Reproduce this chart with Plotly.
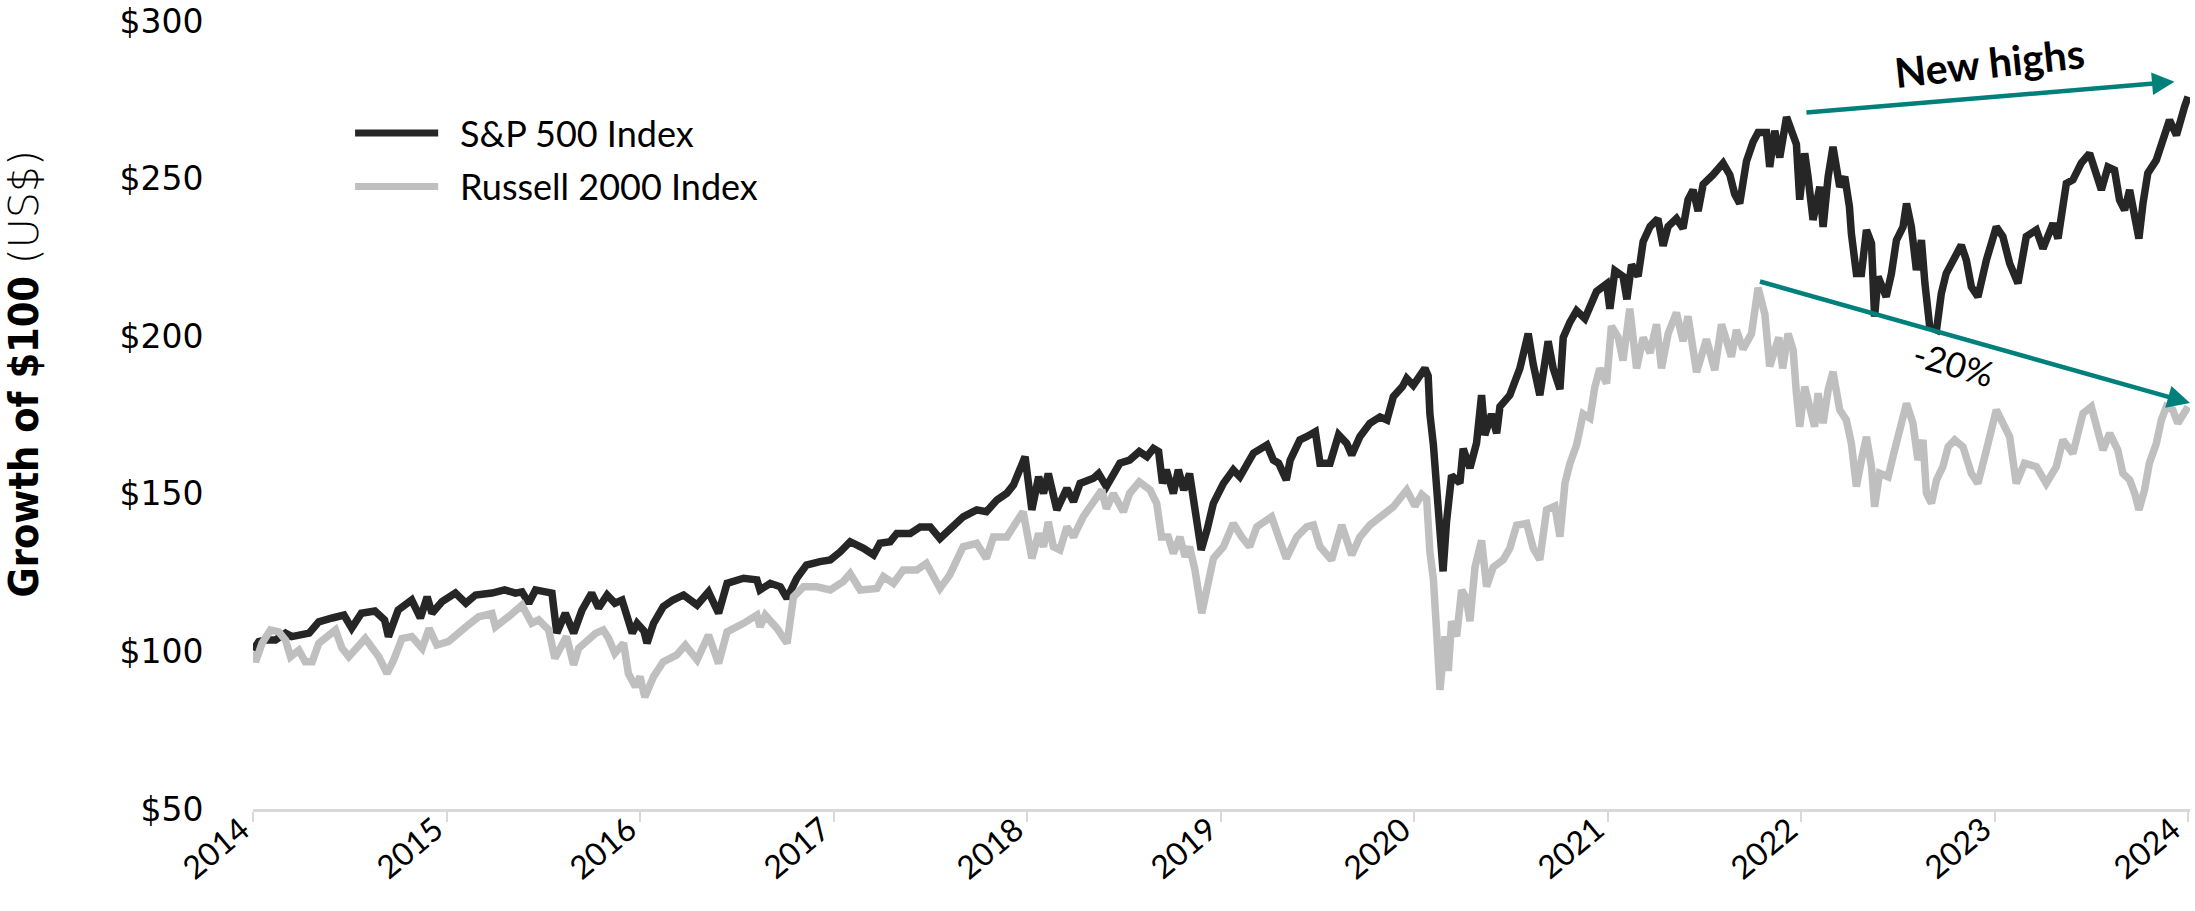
import plotly.graph_objects as go

# ---------------- DATA ----------------
# time measured in years since 1 Jan 2014
sp500_t = [0.000, 0.030, 0.065, 0.116, 0.168, 0.200, 0.290, 0.340, 0.410, 0.470, 0.510, 0.560, 0.630, 0.680,
           0.700, 0.750, 0.820, 0.865, 0.900, 0.925, 0.977, 1.046, 1.100, 1.150, 1.235, 1.300, 1.356, 1.390,
           1.425, 1.460, 1.545, 1.570, 1.614, 1.657, 1.700, 1.750, 1.786, 1.830, 1.870, 1.907, 1.960, 1.985,
           2.020, 2.036, 2.070, 2.120, 2.170, 2.225, 2.295, 2.354, 2.406, 2.450, 2.535, 2.604, 2.620, 2.673,
           2.725, 2.760, 2.810, 2.860, 2.930, 2.983, 3.035, 3.086, 3.155, 3.207, 3.240, 3.293, 3.327, 3.396,
           3.448, 3.500, 3.550, 3.620, 3.670, 3.740, 3.790, 3.844, 3.896, 3.930, 3.964, 3.990, 4.025, 4.060,
           4.085, 4.110, 4.154, 4.206, 4.240, 4.274, 4.343, 4.370, 4.410, 4.480, 4.530, 4.580, 4.620, 4.653,
           4.680, 4.700, 4.720, 4.756, 4.782, 4.810, 4.840, 4.870, 4.900, 4.930, 4.963, 5.015, 5.066, 5.100,
           5.170, 5.240, 5.273, 5.300, 5.340, 5.360, 5.410, 5.445, 5.490, 5.514, 5.566, 5.610, 5.652, 5.678,
           5.720, 5.772, 5.824, 5.860, 5.893, 5.940, 5.962, 5.996, 6.013, 6.056, 6.073, 6.082, 6.100, 6.117,
           6.134, 6.150, 6.168, 6.194, 6.237, 6.254, 6.289, 6.323, 6.349, 6.366, 6.400, 6.427, 6.444, 6.495,
           6.547, 6.590, 6.616, 6.650, 6.693, 6.719, 6.754, 6.771, 6.805, 6.840, 6.883, 6.943, 6.995, 7.012,
           7.038, 7.080, 7.100, 7.124, 7.158, 7.184, 7.220, 7.260, 7.287, 7.313, 7.356, 7.390, 7.416, 7.442,
           7.468, 7.494, 7.545, 7.597, 7.632, 7.657, 7.683, 7.718, 7.752, 7.778, 7.821, 7.838, 7.864, 7.890,
           7.925, 7.950, 7.976, 7.993, 8.019, 8.036, 8.062, 8.097, 8.114, 8.140, 8.165, 8.200, 8.226, 8.250,
           8.260, 8.286, 8.312, 8.338, 8.364, 8.380, 8.398, 8.440, 8.467, 8.493, 8.527, 8.545, 8.570, 8.596,
           8.622, 8.640, 8.665, 8.700, 8.725, 8.750, 8.785, 8.828, 8.854, 8.880, 8.914, 8.958, 9.009, 9.043,
           9.078, 9.121, 9.164, 9.216, 9.250, 9.302, 9.328, 9.353, 9.371, 9.405, 9.448, 9.491, 9.517, 9.552,
           9.586, 9.620, 9.646, 9.672, 9.698, 9.724, 9.746, 9.767, 9.792, 9.836, 9.870, 9.904, 9.940, 9.965,
           9.982, 10.000]
sp500_value = [100.4, 103.1, 103.6, 103.6, 105.8, 104.7, 105.8, 109.4, 110.6, 111.5, 107.4, 112.1, 112.8, 110.0,
               104.7, 113.1, 116.3, 110.6, 117.3, 112.1, 115.8, 118.5, 115.3, 117.9, 118.5, 119.5, 118.5, 118.9,
               115.3, 119.5, 118.5, 105.8, 112.1, 105.8, 113.1, 118.5, 113.8, 117.9, 115.3, 116.3, 105.8, 108.9,
               106.5, 102.6, 108.9, 114.2, 116.3, 117.9, 114.7, 118.9, 112.1, 121.6, 123.2, 122.7, 119.5, 121.6,
               120.5, 116.8, 123.2, 127.4, 128.5, 129.0, 131.6, 134.8, 132.7, 130.6, 134.3, 134.8, 137.4, 137.4,
               139.5, 139.5, 135.8, 139.5, 142.7, 144.9, 144.3, 148.0, 150.2, 152.8, 157.6, 161.8, 144.9, 155.4,
               150.1, 156.4, 144.9, 151.7, 147.5, 153.3, 154.9, 156.4, 152.3, 159.7, 160.7, 163.4, 161.8, 164.4,
               163.4, 153.3, 157.6, 150.1, 157.6, 151.2, 156.4, 145.9, 132.2, 138.5, 147.0, 153.3, 157.6, 155.4,
               162.9, 165.5, 160.7, 159.7, 154.4, 160.7, 167.1, 168.1, 169.7, 159.7, 159.7, 168.7, 166.0, 162.3,
               168.1, 172.4, 174.4, 173.4, 180.8, 184.0, 186.6, 184.4, 186.0, 189.8, 187.4, 175.3, 165.5, 152.2,
               137.6, 125.4, 141.2, 155.8, 153.4, 164.3, 158.2, 166.1, 181.3, 168.6, 175.3, 169.2, 177.7, 181.3,
               189.8, 200.8, 191.1, 181.3, 198.4, 189.8, 183.2, 199.6, 204.4, 208.1, 205.6, 214.2, 216.6, 208.7,
               220.8, 219.0, 211.7, 222.7, 219.0, 230.0, 234.8, 237.3, 228.7, 234.8, 237.3, 234.2, 243.3, 246.4,
               239.7, 248.2, 251.2, 254.9, 251.2, 245.1, 242.1, 255.5, 261.6, 264.6, 264.6, 253.7, 265.2, 256.7,
               269.5, 265.2, 260.9, 243.3, 258.0, 250.6, 236.9, 247.4, 234.7, 250.6, 260.1, 247.4, 250.6, 241.1,
               232.6, 219.9, 219.9, 233.7, 229.5, 206.2, 218.9, 212.5, 219.9, 230.5, 234.7, 242.1, 234.7, 221.0,
               230.5, 216.8, 203.0, 202.0, 213.6, 219.9, 224.2, 228.9, 224.2, 215.7, 212.5, 224.2, 234.7, 231.6,
               223.1, 216.8, 231.6, 233.7, 227.8, 235.8, 231.0, 241.1, 248.5, 249.6, 254.9, 258.0, 252.7, 246.4,
               253.7, 252.7, 243.2, 240.0, 246.4, 237.9, 231.0, 242.1, 251.7, 255.9, 263.3, 268.6, 263.8, 270.7,
               272.8, 276.0]

russell_t = [0.000, 0.013, 0.047, 0.090, 0.133, 0.168, 0.194, 0.237, 0.270, 0.306, 0.340, 0.426, 0.460, 0.495,
             0.580, 0.650, 0.693, 0.727, 0.770, 0.820, 0.874, 0.910, 0.950, 1.010, 1.100, 1.166, 1.235, 1.253,
             1.320, 1.390, 1.440, 1.476, 1.528, 1.560, 1.620, 1.657, 1.683, 1.770, 1.810, 1.838, 1.870, 1.915,
             1.940, 1.976, 2.000, 2.025, 2.070, 2.120, 2.190, 2.234, 2.295, 2.354, 2.406, 2.450, 2.535, 2.604,
             2.620, 2.647, 2.708, 2.760, 2.793, 2.845, 2.914, 2.983, 3.050, 3.086, 3.138, 3.224, 3.258, 3.310,
             3.360, 3.430, 3.480, 3.516, 3.550, 3.600, 3.670, 3.740, 3.790, 3.826, 3.896, 3.940, 3.980, 4.025,
             4.060, 4.085, 4.110, 4.136, 4.170, 4.206, 4.240, 4.290, 4.343, 4.386, 4.410, 4.446, 4.498, 4.530,
             4.580, 4.636, 4.670, 4.695, 4.730, 4.756, 4.790, 4.817, 4.840, 4.868, 4.903, 4.930, 4.963, 5.015,
             5.066, 5.110, 5.150, 5.187, 5.264, 5.300, 5.340, 5.394, 5.445, 5.480, 5.514, 5.574, 5.626, 5.678,
             5.720, 5.772, 5.824, 5.893, 5.962, 6.005, 6.040, 6.065, 6.082, 6.100, 6.117, 6.134, 6.160, 6.177,
             6.194, 6.220, 6.246, 6.270, 6.289, 6.315, 6.349, 6.375, 6.409, 6.461, 6.495, 6.530, 6.582, 6.616,
             6.650, 6.685, 6.728, 6.754, 6.780, 6.805, 6.840, 6.874, 6.909, 6.934, 6.960, 6.995, 7.020, 7.055,
             7.080, 7.115, 7.150, 7.184, 7.220, 7.253, 7.279, 7.313, 7.356, 7.390, 7.416, 7.460, 7.511, 7.554,
             7.589, 7.640, 7.666, 7.700, 7.744, 7.778, 7.813, 7.838, 7.885, 7.905, 7.933, 7.959, 7.976, 7.993,
             8.019, 8.045, 8.070, 8.088, 8.114, 8.140, 8.165, 8.200, 8.234, 8.260, 8.286, 8.312, 8.338, 8.364,
             8.380, 8.406, 8.450, 8.475, 8.510, 8.545, 8.578, 8.604, 8.630, 8.648, 8.674, 8.700, 8.733, 8.760,
             8.794, 8.837, 8.880, 8.914, 8.958, 9.009, 9.043, 9.078, 9.112, 9.155, 9.216, 9.267, 9.319, 9.353,
             9.405, 9.457, 9.500, 9.526, 9.560, 9.595, 9.637, 9.663, 9.698, 9.724, 9.746, 9.775, 9.800, 9.836,
             9.862, 9.888, 9.921, 9.947, 9.973, 10.000]
russell_value = [99.9, 96.7, 102.6, 106.8, 106.2, 103.6, 98.3, 100.4, 96.7, 96.7, 102.6, 106.8, 101.0, 98.3,
                 104.1, 98.3, 93.0, 97.3, 104.1, 104.7, 101.0, 107.3, 102.0, 103.1, 107.8, 111.0, 112.0, 107.8,
                 111.0, 114.7, 108.9, 110.0, 106.8, 97.8, 104.7, 95.7, 101.0, 105.7, 106.8, 104.1, 99.4, 102.6,
                 93.0, 88.8, 92.0, 85.5, 92.0, 96.7, 98.9, 102.0, 97.3, 105.2, 96.2, 106.2, 108.9, 111.5,
                 107.8, 111.5, 107.3, 102.6, 117.3, 120.5, 120.5, 119.5, 122.1, 124.7, 119.5, 120.0, 123.7, 121.6,
                 125.8, 125.8, 127.9, 123.2, 120.0, 124.2, 133.2, 134.3, 129.5, 136.3, 136.3, 140.6, 144.3, 129.5,
                 137.4, 133.2, 141.1, 133.2, 132.2, 139.5, 136.3, 142.7, 147.0, 151.2, 145.3, 150.1, 144.3, 150.1,
                 153.8, 151.2, 147.0, 136.3, 136.3, 131.1, 136.3, 130.0, 133.2, 125.8, 112.1, 120.5, 129.5, 133.2,
                 140.6, 136.3, 133.2, 139.5, 142.7, 136.3, 129.5, 136.3, 139.5, 140.1, 133.2, 129.0, 140.1, 130.6,
                 136.3, 140.1, 142.7, 145.9, 151.2, 146.1, 149.8, 148.5, 131.5, 123.0, 106.0, 87.8, 104.8, 93.8,
                 109.6, 104.8, 119.4, 116.9, 109.6, 126.7, 135.2, 120.6, 126.7, 129.1, 132.7, 140.0, 140.6, 132.7,
                 129.1, 144.9, 146.1, 136.4, 153.4, 159.5, 165.5, 175.3, 174.0, 183.8, 189.8, 185.0, 203.2, 199.6,
                 192.3, 208.7, 189.8, 199.6, 194.7, 203.8, 189.8, 200.8, 207.5, 198.4, 206.3, 188.6, 199.0, 189.2,
                 203.8, 193.5, 202.0, 195.9, 200.8, 215.4, 206.9, 190.4, 199.6, 189.8, 200.8, 195.6, 181.9, 171.3,
                 184.0, 177.6, 171.3, 181.9, 172.4, 182.9, 188.7, 176.6, 173.4, 166.0, 152.3, 160.7, 168.1, 158.6,
                 145.9, 156.5, 155.4, 161.8, 170.2, 178.7, 172.4, 160.7, 167.1, 150.2, 147.0, 154.4, 158.6, 164.9,
                 167.1, 164.9, 156.5, 153.3, 163.9, 176.6, 172.4, 168.1, 153.3, 159.7, 158.6, 153.3, 158.6, 167.1,
                 162.8, 175.5, 177.6, 172.4, 163.9, 169.2, 163.9, 156.5, 154.4, 150.2, 144.9, 151.2, 159.7, 166.0,
                 173.4, 177.6, 176.6, 172.4, 175.5, 177.6]

START_YEAR = 2014
year_ticks = list(range(2014, 2025))
year_labels = [str(y) for y in year_ticks]
value_ticks = [50, 100, 150, 200, 250, 300]
value_labels = ["$50", "$100", "$150", "$200", "$250", "$300"]

series_names = ["S&P 500 Index", "Russell 2000 Index"]
series_colors = ["#262626", "#bfbfbf"]

# annotation anchor points (year, value)
new_highs_arrow = {"tail": (2022.02, 270.9), "tip": (2023.93, 280.7)}
drop_arrow = {"tail": (2021.78, 217.5), "tip": (2024.01, 178.8)}
new_highs_label = (2022.975, 286.8)
drop_label = (2022.79, 191.6)

TEAL = "#00807a"
X_MAX = 2024.01

# ---------------- FIGURE ----------------
sp_x = [START_YEAR + t for t in sp500_t]
ru_x = [START_YEAR + t for t in russell_t]

fig = go.Figure()
fig.add_trace(go.Scatter(x=sp_x, y=sp500_value, mode="lines", name=series_names[0],
                         line=dict(color=series_colors[0], width=7.5), cliponaxis=False))
fig.add_trace(go.Scatter(x=ru_x, y=russell_value, mode="lines", name=series_names[1],
                         line=dict(color=series_colors[1], width=7.5), cliponaxis=False))

annotations = []
for arr in (new_highs_arrow, drop_arrow):
    annotations.append(dict(
        x=arr["tip"][0], y=arr["tip"][1], ax=arr["tail"][0], ay=arr["tail"][1],
        xref="x", yref="y", axref="x", ayref="y", text="", showarrow=True,
        arrowhead=2, arrowsize=1, arrowwidth=4.5, arrowcolor=TEAL, standoff=0, startstandoff=0))

annotations.append(dict(x=new_highs_label[0], y=new_highs_label[1], xref="x", yref="y",
                        text="<b>New highs</b>", showarrow=False, textangle=-6,
                        font=dict(family="Lato", size=41, color="#000000")))
annotations.append(dict(x=drop_label[0], y=drop_label[1], xref="x", yref="y",
                        text="-20%", showarrow=False, textangle=16,
                        font=dict(family="Lato", size=35, color="#000000")))

# rotated year labels, anchored by their top-right corner just right of each tick
for yr, lab in zip(year_ticks, year_labels):
    annotations.append(dict(x=min(yr + 0.03, X_MAX - 0.002), y=0.004, xref="x", yref="paper", text=lab,
                            showarrow=False, textangle=-40, xanchor="right", yanchor="top",
                            font=dict(family="Lato", size=32, color="#000000")))

# y-axis title
annotations.append(dict(x=-0.118, y=0.552, xref="paper", yref="paper",
                        text="<b>Growth of $100</b> <span style='font-family:\"DejaVu Sans\";font-weight:200'>(US$)</span>",
                        showarrow=False, textangle=-90, xanchor="center", yanchor="middle",
                        font=dict(family="DejaVu Sans Condensed", size=41, color="#000000")))

# legend (manual)
legend_rows_y = [0.858, 0.790]
shapes = []
for name, color, ly in zip(series_names, series_colors, legend_rows_y):
    shapes.append(dict(type="line", xref="paper", yref="paper", x0=0.0527, x1=0.0956, y0=ly, y1=ly,
                       line=dict(color=color, width=7)))
    annotations.append(dict(x=0.106, y=ly, xref="paper", yref="paper", text=name, showarrow=False,
                            xanchor="left", yanchor="middle",
                            font=dict(family="Lato", size=36, color="#000000")))

fig.update_layout(
    width=2195, height=911,
    margin=dict(l=253, r=5, t=21, b=102, pad=0, autoexpand=False),
    paper_bgcolor="white", plot_bgcolor="white",
    showlegend=False,
    annotations=annotations, shapes=shapes,
    xaxis=dict(range=[2014, X_MAX], tickmode="array", tickvals=year_ticks, ticktext=year_labels,
               showticklabels=False, showgrid=False, zeroline=False, automargin=False,
               showline=True, linecolor="#d9d9d9", linewidth=3,
               ticks="outside", ticklen=10, tickwidth=2, tickcolor="#d9d9d9"),
    yaxis=dict(range=[50, 300], tickmode="array", tickvals=value_ticks, ticktext=value_labels,
               showgrid=False, zeroline=False, showline=False, automargin=False,
               ticks="outside", ticklen=42, tickcolor="rgba(0,0,0,0)",
               tickfont=dict(family="DejaVu Sans", size=33, color="#000000")),
)

fig.write_html("out.html", include_plotlyjs=True, config={"displayModeBar": False},
               post_script="document.body.style.margin='0';document.body.style.overflow='hidden';")
